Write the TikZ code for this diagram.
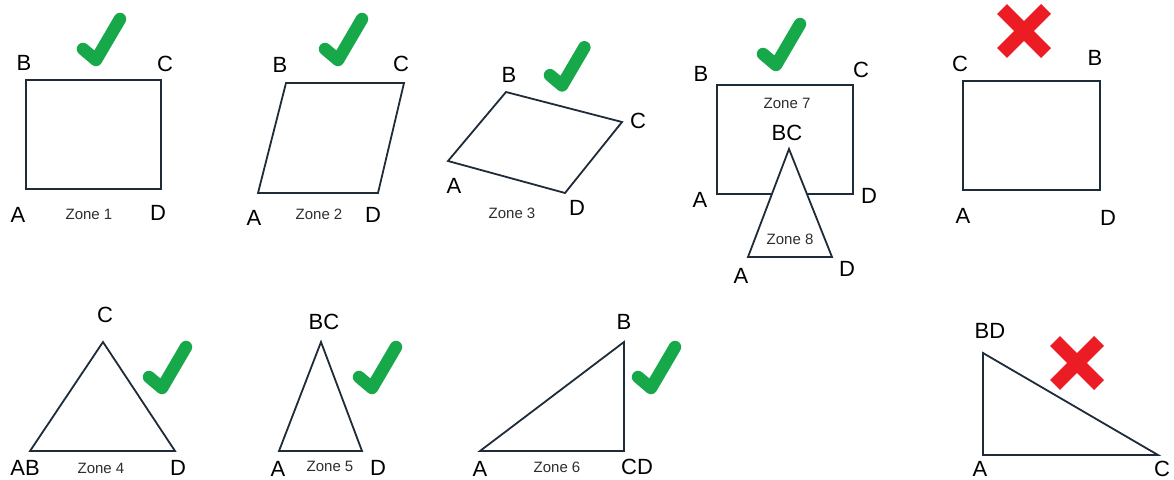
\documentclass[tikz,border=0pt]{standalone}
\usepackage{fontspec}
\setmainfont{Liberation Sans}
\definecolor{linec}{HTML}{1E2B38}
\definecolor{zonec}{HTML}{2E2E2E}
\definecolor{chkgreen}{HTML}{17A84A}
\definecolor{crsred}{HTML}{EC1C24}
\tikzset{
  shp/.style={draw=linec, line width=1.8pt, line join=miter},
  lbl/.style={font=\fontsize{22}{22}\selectfont, inner sep=0pt, text=black},
  zn/.style={font=\fontsize{15}{15}\selectfont, inner sep=0pt, text=zonec},
  chk/.pic={\draw[chkgreen, line width=12.5pt, line cap=round, line join=round] (-14,-17) -- (-1,-6) -- (23,-47);},
  crs/.pic={\draw[crsred, line width=14pt] (-22,-22) -- (22,22) (-22,22) -- (22,-22);}
}
\begin{document}
\begin{tikzpicture}[x=1pt,y=-1pt]
\useasboundingbox[fill=white] (0,0) rectangle (1174,479);
% Zone 1
\coordinate (A1) at (26,189); \coordinate (B1) at (26,80);
\coordinate (C1) at (161,80); \coordinate (D1) at (161,189);
\draw[shp] (A1) -- (B1) -- (C1) -- (D1) -- cycle;
\node[lbl] (lB1) at (24,63) {B}; \node[lbl] (lC1) at (165,64) {C};
\node[lbl] (lA1) at (18,215) {A}; \node[lbl] (lD1) at (158,213) {D};
\node[zn] (z1) at (89,214) {Zone 1};
\pic (k1) at (97,66) {chk};
% Zone 2
\coordinate (A2) at (258,193); \coordinate (B2) at (286,83);
\coordinate (C2) at (404,83); \coordinate (D2) at (378,193);
\draw[shp] (A2) -- (B2) -- (C2) -- (D2) -- cycle;
\node[lbl] (lB2) at (280,65) {B}; \node[lbl] (lC2) at (401,64) {C};
\node[lbl] (lA2) at (254,218) {A}; \node[lbl] (lD2) at (373,215) {D};
\node[zn] (z2) at (319,214) {Zone 2};
\pic (k2) at (339,66) {chk};
% Zone 3
\coordinate (A3) at (448,161); \coordinate (B3) at (506,92);
\coordinate (C3) at (622,122); \coordinate (D3) at (565,193);
\draw[shp] (A3) -- (B3) -- (C3) -- (D3) -- cycle;
\node[lbl] (lB3) at (509,75) {B}; \node[lbl] (lC3) at (638,121) {C};
\node[lbl] (lA3) at (454,186) {A}; \node[lbl] (lD3) at (577,208) {D};
\node[zn] (z3) at (512,213) {Zone 3};
\pic[scale=0.93] (k3) at (563,91) {chk};
% Zone 7 / 8
\coordinate (A7) at (717,194); \coordinate (B7) at (717,85);
\coordinate (C7) at (853,85); \coordinate (D7) at (853,194);
\draw[shp] (A7) -- (B7) -- (C7) -- (D7) -- cycle;
\coordinate (T8) at (789,149); \coordinate (A8) at (748,257); \coordinate (D8) at (832,257);
\draw[shp, fill=white] (T8) -- (A8) -- (D8) -- cycle;
\node[lbl] (lB7) at (701,74) {B}; \node[lbl] (lC7) at (861,70) {C};
\node[lbl] (lA7) at (700,200) {A}; \node[lbl] (lD7) at (869,196) {D};
\node[zn] (z7) at (787,103) {Zone 7};
\node[lbl] (lT8) at (787,133) {BC};
\node[zn] (z8) at (790,239) {Zone 8};
\node[lbl] (lA8) at (741,276) {A}; \node[lbl] (lD8) at (847,269) {D};
\pic (k7) at (777,71) {chk};
% Wrong rectangle
\coordinate (Ax) at (963,190); \coordinate (Cx) at (963,81);
\coordinate (Bx) at (1100,81); \coordinate (Dx) at (1100,190);
\draw[shp] (Ax) -- (Cx) -- (Bx) -- (Dx) -- cycle;
\node[lbl] (lCx) at (960,64) {C}; \node[lbl] (lBx) at (1095,58) {B};
\node[lbl] (lAx) at (963,216) {A}; \node[lbl] (lDx) at (1108,218) {D};
\pic (x1) at (1024,31) {crs};
% Zone 4
\coordinate (A4) at (30,451); \coordinate (C4) at (103,342); \coordinate (D4) at (175,451);
\draw[shp] (A4) -- (C4) -- (D4) -- cycle;
\node[lbl] (lC4) at (105,315) {C}; \node[lbl] (lA4) at (25,468) {AB};
\node[lbl] (lD4) at (178,468) {D};
\node[zn] (z4) at (101,468) {Zone 4};
\pic (k4) at (163,394) {chk};
% Zone 5
\coordinate (A5) at (279,451); \coordinate (C5) at (321,342); \coordinate (D5) at (362,451);
\draw[shp] (A5) -- (C5) -- (D5) -- cycle;
\node[lbl] (lC5) at (324,322) {BC}; \node[lbl] (lA5) at (278,469) {A};
\node[lbl] (lD5) at (378,468) {D};
\node[zn] (z5) at (330,466) {Zone 5};
\pic (k5) at (373,394) {chk};
% Zone 6
\coordinate (A6) at (480,451); \coordinate (B6) at (624,342); \coordinate (C6) at (624,451);
\draw[shp] (A6) -- (B6) -- (C6) -- cycle;
\node[lbl] (lB6) at (624,322) {B}; \node[lbl] (lA6) at (480,469) {A};
\node[lbl] (lC6) at (637,467) {CD};
\node[zn] (z6) at (557,467) {Zone 6};
\pic (k6) at (652,394) {chk};
% Wrong triangle
\coordinate (Ay) at (983,455); \coordinate (By) at (983,353); \coordinate (Cy) at (1158,455);
\draw[shp] (Ay) -- (By) -- (Cy) -- cycle;
\node[lbl] (lBy) at (990,331) {BD}; \node[lbl] (lAy) at (980,469) {A};
\node[lbl] (lCy) at (1162,469) {C};
\pic (x2) at (1077,363) {crs};
\end{tikzpicture}
\end{document}
